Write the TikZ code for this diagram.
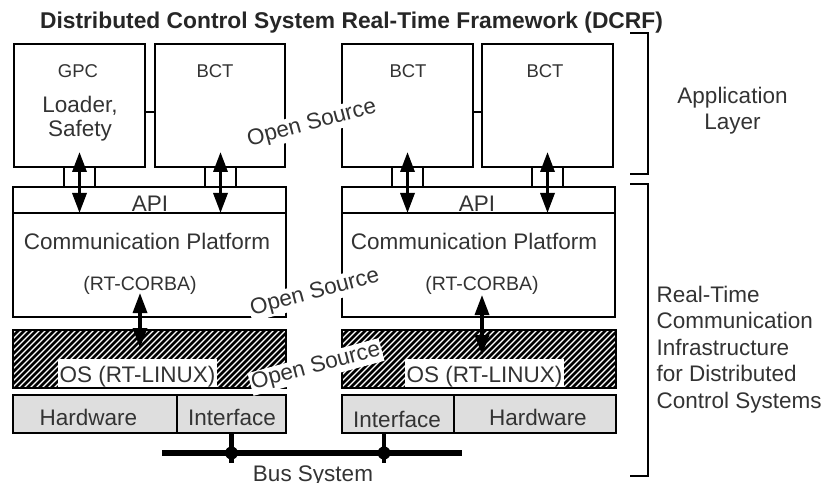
\documentclass[tikz,border=0pt]{standalone}
\usepackage{fontspec}
\setmainfont{Liberation Sans}
\usetikzlibrary{arrows.meta}

\tikzset{
  box/.style={draw=black, line width=2.4bp, inner sep=0pt, outer sep=0pt, anchor=north west},
  hwbox/.style={box, fill=black!13},
  hatched/.style={box, path picture={
      \foreach \k in {-70,-64,...,300}
        \draw[line width=2.5bp] ([xshift=\k bp]path picture bounding box.south west) -- ++(70bp,70bp);}},
  lbl/.style={text=black!80, inner sep=0pt, font=\fontsize{22.5bp}{26.5bp}\selectfont},
  small/.style={lbl, font=\fontsize{18.5bp}{22bp}\selectfont},
  corba/.style={lbl, font=\fontsize{19.5bp}{23bp}\selectfont},
  ostext/.style={lbl, fill=white, inner xsep=2bp, inner ysep=0pt, text height=23bp, text depth=4.6bp},
  opensrc/.style={lbl, fill=white, inner sep=1.5bp, rotate=15},
  dbl/.style={line width=3.3bp, {Triangle[width=14bp,length=20bp]}-{Triangle[width=14bp,length=20bp]}},
  link/.style={line width=2.4bp},
  bracket/.style={line width=2.4bp},
}

\begin{document}
\begin{tikzpicture}[x={(1bp,0)}, y={(0,-1bp)}]
\useasboundingbox (0,0) rectangle (826,483);

% title
\node[lbl, text=black!85, font=\bfseries\fontsize{22.8bp}{26bp}\selectfont, anchor=base] (title) at (351.5,29)
  {Distributed Control System Real-Time Framework (DCRF)};

% application boxes
\node[box, minimum width=131bp, minimum height=123bp] (gpc)  at (14,44)  {};
\node[box, minimum width=130bp, minimum height=123bp] (bctA) at (155,44) {};
\node[box, minimum width=131bp, minimum height=123bp] (bctB) at (342,44) {};
\node[box, minimum width=131bp, minimum height=123bp] (bctC) at (482,44) {};

\node[small, anchor=base] (gpcT)  at (78,78)  {GPC};
\node[lbl, anchor=base, align=center, font=\fontsize{22.5bp}{24bp}\selectfont] (loader) at (80,137) {Loader,\\Safety};
\node[small, anchor=base] (bctAT) at (215,78) {BCT};
\node[small, anchor=base] (bctBT) at (408,78) {BCT};
\node[small, anchor=base] (bctCT) at (545,78) {BCT};

% links between neighbouring applications
\draw[link] ([yshift=-6.5bp]gpc.east)  -- ([yshift=-6.5bp]bctA.west);
\draw[link] ([yshift=-6.5bp]bctB.east) -- ([yshift=-6.5bp]bctC.west);

% API and communication platform
\node[box, minimum width=273bp, minimum height=26bp]  (apiL) at (13,187)  {};
\node[box, minimum width=273bp, minimum height=104bp] (comL) at (13,213)  {};
\node[box, minimum width=273bp, minimum height=26bp]  (apiR) at (342,187) {};
\node[box, minimum width=273bp, minimum height=104bp] (comR) at (342,213) {};

\node[lbl, anchor=base] (apiLT) at (150,212) {API};
\node[lbl, anchor=base] (apiRT) at (477,212) {API};
\node[lbl, anchor=base] (comLT) at (147,250) {Communication Platform};
\node[lbl, anchor=base] (comRT) at (474,250) {Communication Platform};
\node[corba, anchor=base] (corbaLT) at (140,291) {(RT-CORBA)};
\node[corba, anchor=base] (corbaRT) at (482,291) {(RT-CORBA)};

% ports between applications and API
\node[box, minimum width=31bp, minimum height=20bp] (portA) at (64,167)  {};
\node[box, minimum width=31bp, minimum height=20bp] (portB) at (205,167) {};
\node[box, minimum width=31bp, minimum height=20bp] (portC) at (392,167) {};
\node[box, minimum width=31bp, minimum height=20bp] (portD) at (532,167) {};

\draw[dbl] ([yshift=15bp]portA.north) -- (portA |- apiL.south);
\draw[dbl] ([yshift=15bp]portB.north) -- (portB |- apiL.south);
\draw[dbl] ([yshift=15bp]portC.north) -- (portC |- apiR.south);
\draw[dbl] ([yshift=15bp]portD.north) -- (portD |- apiR.south);

% operating system layer
\node[hatched, minimum width=273bp, minimum height=58bp] (osL) at (13,330)  {};
\node[hatched, minimum width=274bp, minimum height=58bp] (osR) at (342,330) {};
\node[ostext, anchor=base] (osLT) at (137.5,382) {OS (RT-LINUX)};
\node[ostext, anchor=base] (osRT) at (484.5,382) {OS (RT-LINUX)};

\coordinate (corbaL) at (140,293);
\coordinate (linuxL) at (140,348);
\coordinate (corbaR) at (482,295);
\coordinate (linuxR) at (482,355);
\draw[dbl] (corbaL) -- (linuxL);
\draw[dbl] (corbaR) -- (linuxR);

% hardware layer
\node[hwbox, minimum width=164bp, minimum height=38bp] (hwL) at (13,395)  {};
\node[hwbox, minimum width=109bp, minimum height=38bp] (ifL) at (177,395) {};
\node[hwbox, minimum width=112bp, minimum height=38bp] (ifR) at (342,395) {};
\node[hwbox, minimum width=162bp, minimum height=38bp] (hwR) at (454,395) {};
\node[lbl, anchor=base] (hwLT) at (88.5,425)  {Hardware};
\node[lbl, anchor=base] (ifLT) at (232,425)   {Interface};
\node[lbl, anchor=base] (ifRT) at (397,427)   {Interface};
\node[lbl, anchor=base] (hwRT) at (538,425)   {Hardware};

% bus
\coordinate (busW) at (162,453);
\coordinate (busE) at (462,453);
\draw[line width=5.5bp] (busW) -- (busE);
\draw[line width=4.5bp] (ifL.south) -- ++(0,30);
\fill (ifL.south |- busW) circle (6.5bp);
\draw[line width=4.5bp] ([xshift=-14bp]ifR.south) -- ++(0,30);
\fill ([xshift=-14bp]ifR.south |- busW) circle (6.5bp);
\node[lbl, anchor=base] (busT) at (313,481) {Bus System};

% open source labels
\node[opensrc] (os1) at (312,124) {Open Source};
\node[opensrc] (os2) at (315,293) {Open Source};
\node[opensrc] (os3) at (316,367) {Open Source};

% layer brackets
\coordinate (appTop) at (630,33);
\coordinate (appBot) at (630,174);
\coordinate (infTop) at (630,184);
\coordinate (infBot) at (630,476);
\draw[bracket] (appTop) -- ++(18,0) |- (appBot);
\draw[bracket] (infTop) -- ++(18,0) |- (infBot);

\node[lbl, anchor=base, align=center] (appT) at (732.5,130) {Application\\Layer};
\node[lbl, anchor=base west, align=left] (infT) at (656.5,408)
  {Real-Time\\Communication\\Infrastructure\\for Distributed\\Control Systems};
\end{tikzpicture}
\end{document}
